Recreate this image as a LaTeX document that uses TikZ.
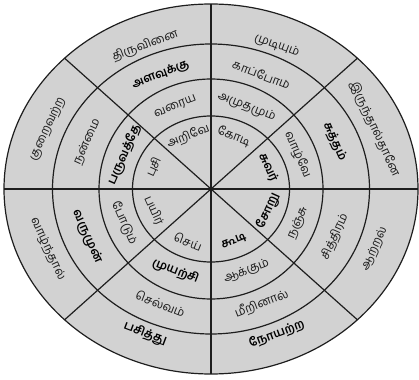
\documentclass[tikz,border=0pt]{standalone}
\usepackage{fontspec}
\newfontfamily\tamil[Script=Tamil]{Hind Madurai}
\definecolor{wheelfill}{RGB}{210,210,210}
\definecolor{linec}{RGB}{30,30,30}
\newcommand\celltext[6]{%
  \pgfmathsetmacro\cx{#3*cos(#2)}%
  \pgfmathsetmacro\cy{#4*sin(#2)}%
  \pgfmathsetmacro\rot{sin(#2)>=0 ? atan2(-#4*cos(#2), #3*sin(#2)) : atan2(#4*cos(#2), -#3*sin(#2))}%
  \node[#5, rotate=\rot] (#1) at (\cx,\cy) {#6};%
}
\begin{document}
\begin{tikzpicture}[x=1pt,y=1pt,
  ringline/.style={draw=linec, line width=1.2pt},
  wtext/.style={font=\tamil\fontsize{12}{13}\selectfont, inner sep=0pt, text=black!90},
  btext/.style={font=\tamil\bfseries\fontsize{12}{13}\selectfont, inner sep=0pt, text=black}]
\useasboundingbox (-211,-190) rectangle (208,189);
% rings
\fill[wheelfill] (0,0) ellipse [x radius=207, y radius=185];
\draw[ringline] (0,0) ellipse [x radius=207, y radius=185];
\draw[ringline] (0,0) ellipse [x radius=158.5, y radius=145];
\draw[ringline] (0,0) ellipse [x radius=112, y radius=110];
\draw[ringline] (0,0) ellipse [x radius=78.5, y radius=73];
% spokes
\draw[ringline] (-207,0) -- (207,0);
\draw[ringline] (0,-185) -- (0,185);
\draw[ringline] (-146.4,-130.8) -- (146.4,130.8);
\draw[ringline] (-146.4,130.8) -- (146.4,-130.8);
\fill[linec] (0,0) circle (1.8);
% NNE
\celltext{a1}{67.5}{60}{57}{wtext}{கோடி}
\celltext{a2}{67.5}{93}{89}{wtext}{அமுதமும்}
\celltext{a3}{67.5}{132}{124}{wtext}{காப்போம்}
\celltext{a4}{67.5}{172}{155}{wtext}{முடியும்}
% ENE
\celltext{b1}{22.5}{62}{57}{btext}{சுவர்}
\celltext{b2}{22.5}{94}{89}{wtext}{வாழ்வே}
\celltext{b3}{22.5}{134}{124}{btext}{சுத்தம்}
\celltext{b4}{22.5}{177}{157}{wtext}{இருந்தால்தானே}
% ESE
\celltext{c1}{-22.5}{62}{57}{btext}{சோறு}
\celltext{c2}{-22.5}{94}{89}{wtext}{நஞ்சு}
\celltext{c3}{-22.5}{134}{124}{wtext}{சித்திரம்}
\celltext{c4}{-22.5}{177}{157}{wtext}{ஆற்றல்}
% SSE
\celltext{d1}{-67.5}{60}{57}{btext}{கூடி}
\celltext{d2}{-67.5}{93}{89}{wtext}{ஆக்கும்}
\celltext{d3}{-67.5}{132}{124}{wtext}{மீறினால்}
\celltext{d4}{-67.5}{172}{157}{btext}{நோயற்ற}
% SSW
\celltext{e1}{-112.5}{60}{57}{wtext}{செய்}
\celltext{e2}{-112.5}{93}{89}{btext}{முயற்சி}
\celltext{e3}{-112.5}{132}{124}{wtext}{செல்வம்}
\celltext{e4}{-112.5}{172}{157}{btext}{பசித்து}
% WSW
\celltext{f1}{-157.5}{62}{57}{wtext}{பயிர்}
\celltext{f2}{-157.5}{94}{89}{wtext}{போடும்}
\celltext{f3}{-157.5}{134}{124}{btext}{வருமுன்}
\celltext{f4}{-157.5}{177}{157}{wtext}{வாழ்ந்தால்}
% WNW
\celltext{g1}{157.5}{62}{57}{wtext}{புசி}
\celltext{g2}{157.5}{94}{89}{btext}{பருவத்தே}
\celltext{g3}{157.5}{134}{124}{wtext}{நன்மை}
\celltext{g4}{157.5}{177}{157}{wtext}{குறைவற்ற}
% NNW
\celltext{h1}{112.5}{60}{57}{wtext}{அறிவே}
\celltext{h2}{112.5}{93}{89}{wtext}{வரைய}
\celltext{h3}{112.5}{132}{124}{btext}{அளவுக்கு}
\celltext{h4}{112.5}{172}{155}{wtext}{திருவினை}
\end{tikzpicture}
\end{document}
